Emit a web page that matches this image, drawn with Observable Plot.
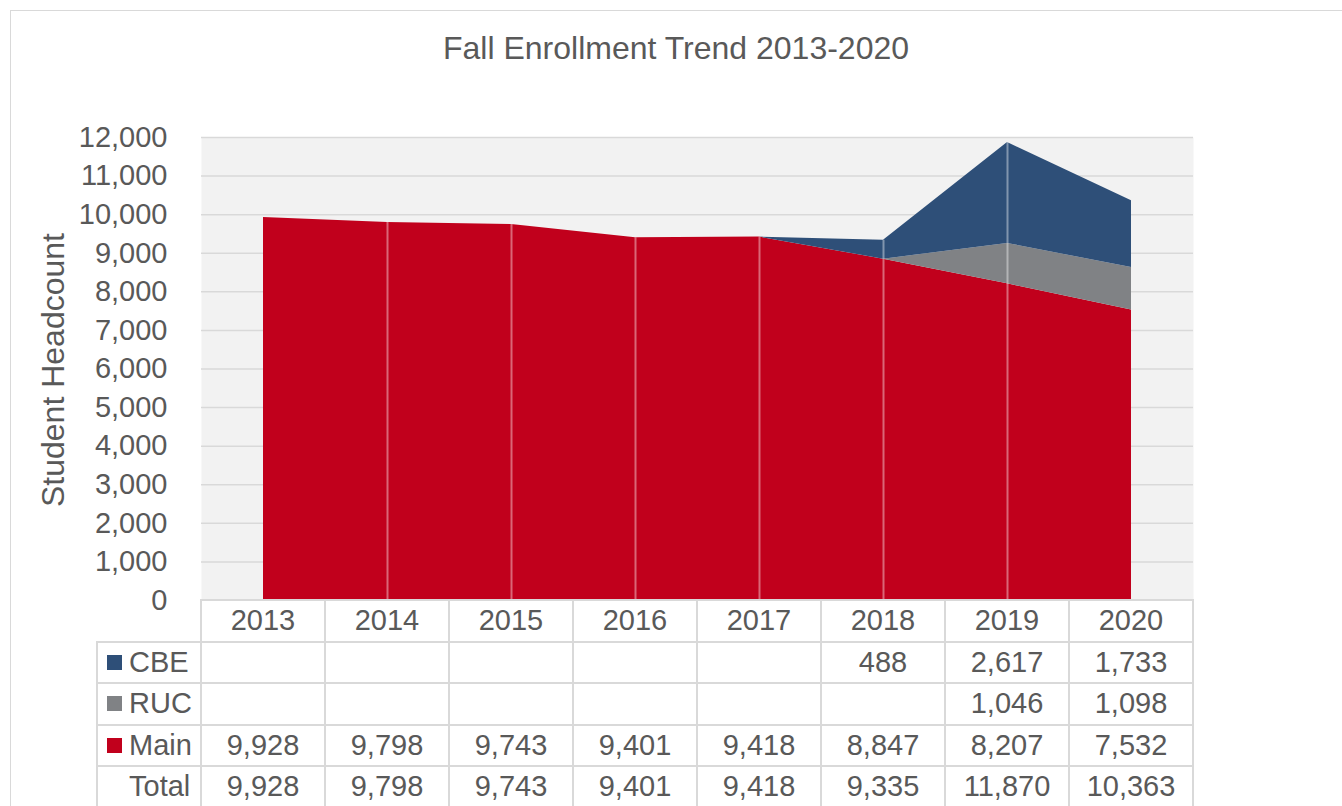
<!DOCTYPE html>
<html>
<head>
<meta charset="utf-8">
<script src="https://cdn.jsdelivr.net/npm/d3@7"></script>
<script src="https://cdn.jsdelivr.net/npm/@observablehq/plot@0.6"></script>
<style>
  html, body { margin: 0; padding: 0; background: #fff; }
  body { width: 1342px; height: 806px; overflow: hidden; position: relative;
         font-family: "Liberation Sans", Arial, sans-serif; color: #595959; }
  #frame { position: absolute; left: 10px; top: 10px; width: 1340px; height: 820px;
           border: 1px solid #d9d9d9; box-sizing: border-box; }
  #title { position: absolute; left: 0; width: 1352px; top: 28px; text-align: center;
           font-size: 32px; line-height: 40px; }
  #ytitle { position: absolute; left: 53px; top: 370px; width: 400px; margin-left: -200px;
            text-align: center; font-size: 32px; line-height: 36px; margin-top: -18px;
            transform: rotate(-90deg); white-space: nowrap; }
  #chart { position: absolute; left: 0; top: 0; }
  .cell { position: absolute; box-sizing: border-box; display: flex; align-items: center;
          justify-content: center; font-size: 29px; white-space: nowrap; }
  .hline { position: absolute; height: 2px; background: #d9d9d9; }
  .vline { position: absolute; width: 2px; background: #d9d9d9; }
  .key { display: inline-block; width: 15px; height: 15px; margin-right: 7px; }
</style>
</head>
<body>
<div id="frame"></div>
<div id="chart"></div>
<div id="title">Fall Enrollment Trend 2013-2020</div>
<div id="ytitle">Student Headcount</div>
<div id="table"></div>
<script>
const years = [2013, 2014, 2015, 2016, 2017, 2018, 2019, 2020];
const cbe   = [null, null, null, null, null, 488, 2617, 1733];
const ruc   = [null, null, null, null, null, null, 1046, 1098];
const main  = [9928, 9798, 9743, 9401, 9418, 8847, 8207, 7532];
const total = [9928, 9798, 9743, 9401, 9418, 9335, 11870, 10363];
const seriesNames = ["CBE", "RUC", "Main"];
const seriesColors = ["#2e4f78", "#808285", "#c1001c"];
const yTicks = [0, 1000, 2000, 3000, 4000, 5000, 6000, 7000, 8000, 9000, 10000, 11000, 12000];

const seriesValues = {CBE: cbe, RUC: ruc, Main: main};
const stackOrder = ["Main", "RUC", "CBE"];
const long = [];
for (const s of stackOrder) {
  years.forEach((yr, i) => long.push({year: yr, series: s, value: seriesValues[s][i] ?? 0}));
}
const totals = years.map((yr, i) => ({year: yr, total: total[i]}));

const plot = Plot.plot({
  width: 1342,
  height: 620,
  marginLeft: 201,
  marginRight: 149,
  marginTop: 137,
  marginBottom: 20,
  style: {fontFamily: '"Liberation Sans", Arial, sans-serif', color: "#595959", background: "transparent"},
  x: {domain: [years[0] - 0.5, years[years.length - 1] + 0.5], axis: null},
  y: {domain: [0, 12000], axis: null},
  color: {domain: seriesNames, range: seriesColors},
  marks: [
    Plot.frame({fill: "#f2f2f2", stroke: null}),
    Plot.ruleY(yTicks.filter(d => d > 0), {stroke: "#d9d9d9", strokeWidth: 1.5}),
    Plot.areaY(long, {x: "year", y: "value", fill: "series", order: stackOrder}),
    Plot.ruleX(totals.slice(1, -1), {x: "year", y1: 0, y2: "total", stroke: "white", strokeOpacity: 0.4, strokeWidth: 2}),
    Plot.axisY({ticks: yTicks, tickSize: 0, tickPadding: 34, fontSize: 29, tickFormat: d3.format(","), fill: "#595959"})
  ]
});
document.getElementById("chart").appendChild(plot);

// Data table, positioned through the plot's x scale
const xs = plot.scale("x");
const edge = i => Math.round(xs.apply(years[0] - 0.5) + (xs.apply(years[0] + 0.5) - xs.apply(years[0] - 0.5)) * i);
const colW = edge(1) - edge(0);
const tableTop = Math.round(plot.scale("y").apply(0));
const rowH = 41.5;
const labelLeft = 97;
const table = document.getElementById("table");
const fmt = d3.format(",");
function add(cls, style, html) {
  const el = document.createElement("div");
  el.className = cls;
  Object.assign(el.style, style);
  if (html != null) el.innerHTML = html;
  table.appendChild(el);
}
const nRows = 5;
add("hline", {left: edge(0) - 1 + "px", top: tableTop - 1 + "px", width: (edge(8) - edge(0) + 2) + "px"});
for (let r = 1; r < nRows + 1; r++) {
  add("hline", {left: labelLeft - 1 + "px", top: (tableTop + rowH * r - 1) + "px", width: (edge(8) - labelLeft + 2) + "px"});
}
add("vline", {left: labelLeft - 1 + "px", top: (tableTop + rowH) + "px", height: "400px"});
for (let c = 0; c <= 8; c++) {
  add("vline", {left: edge(c) - 1 + "px", top: tableTop + "px", height: "400px"});
}
years.forEach((yr, i) => add("cell", {left: edge(i) + "px", top: tableTop + "px", width: colW + "px", height: rowH + "px"}, String(yr)));
const rows = [
  {name: "CBE", color: seriesColors[0], vals: cbe},
  {name: "RUC", color: seriesColors[1], vals: ruc},
  {name: "Main", color: seriesColors[2], vals: main},
  {name: "Total", color: null, vals: total}
];
rows.forEach((row, r) => {
  const top = tableTop + rowH * (r + 1);
  const key = row.color ? `<span class="key" style="background:${row.color}"></span>` : `<span class="key"></span>`;
  add("cell", {left: (labelLeft + 10) + "px", top: top + "px", width: (edge(0) - labelLeft - 10) + "px", height: rowH + "px", justifyContent: "flex-start"}, key + row.name);
  row.vals.forEach((v, i) => add("cell", {left: edge(i) + "px", top: top + "px", width: colW + "px", height: rowH + "px"}, v == null ? "" : fmt(v)));
});
</script>
</body>
</html>
